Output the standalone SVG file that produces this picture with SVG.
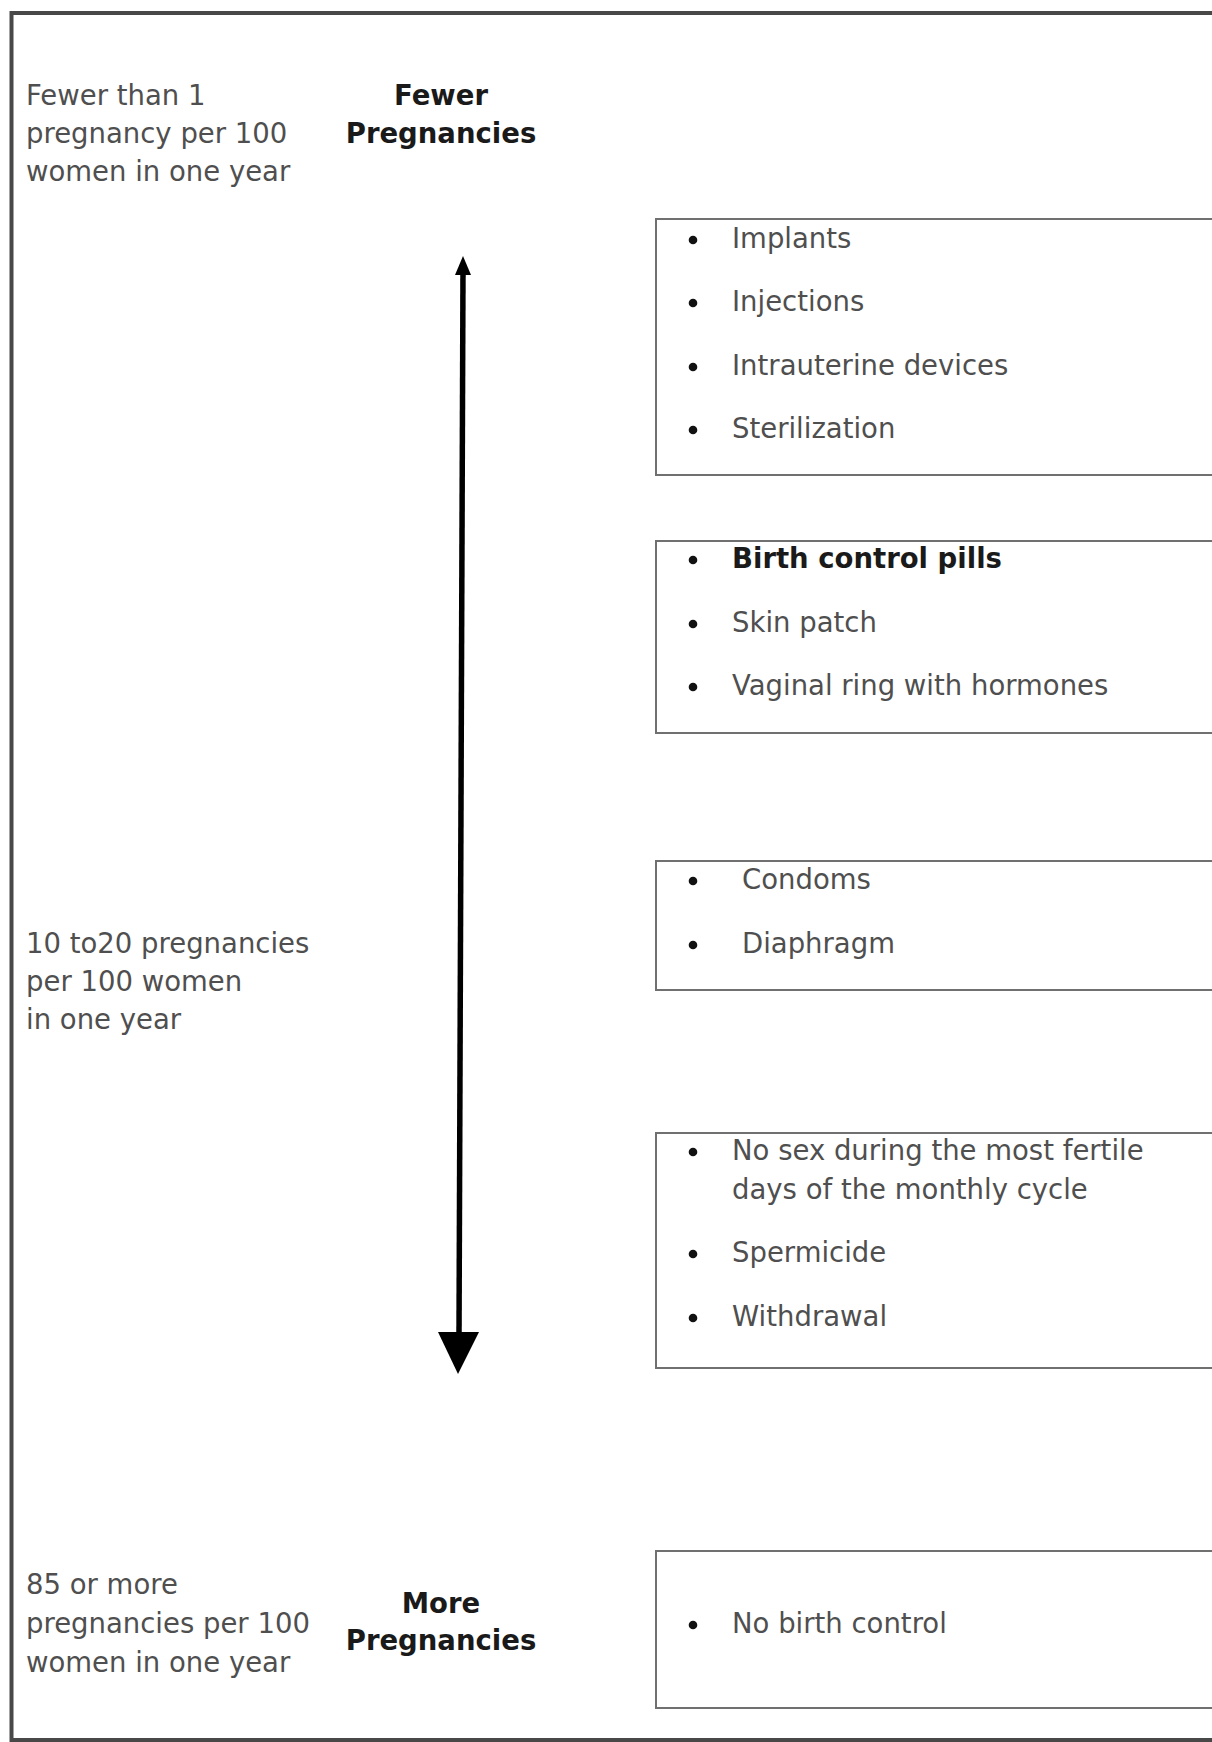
<svg xmlns="http://www.w3.org/2000/svg" width="1212" height="1742" viewBox="0 0 1212 1742">
<style>
.t{font-family:"DejaVu Sans","Liberation Sans",sans-serif;font-size:27.5px;fill:#4f4f4f}
.b{font-family:"DejaVu Sans","Liberation Sans",sans-serif;font-size:27.5px;font-weight:bold;fill:#1a1a1a}
.box{fill:#fff;stroke:#707070;stroke-width:2}
.dot{fill:#111}
</style>
<rect width="1212" height="1742" fill="#fff"/>
<path d="M1214,13 H11.5 V1740 H1214" fill="none" stroke="#484848" stroke-width="4"/>

<g id="label-top">
<text class="t" x="26" y="105">Fewer than 1</text>
<text class="t" x="26" y="143">pregnancy per 100</text>
<text class="t" x="26" y="181">women in one year</text>
</g>
<g id="heading-fewer">
<text class="b" x="441" y="105" text-anchor="middle">Fewer</text>
<text class="b" x="441" y="143" text-anchor="middle">Pregnancies</text>
</g>
<g id="label-mid">
<text class="t" x="26" y="953">10 to20 pregnancies</text>
<text class="t" x="26" y="991">per 100 women</text>
<text class="t" x="26" y="1029">in one year</text>
</g>
<g id="label-bottom">
<text class="t" x="26" y="1594">85 or more</text>
<text class="t" x="26" y="1633">pregnancies per 100</text>
<text class="t" x="26" y="1672">women in one year</text>
</g>
<g id="heading-more">
<text class="b" x="441" y="1613" text-anchor="middle">More</text>
<text class="b" x="441" y="1650" text-anchor="middle">Pregnancies</text>
</g>

<g id="connectors">
<line x1="463" y1="270" x2="459" y2="1336" stroke="#000" stroke-width="5.5"/>
<polygon points="463,256 471,275 455,275" fill="#000"/>
<polygon points="438,1332 479,1332 458,1374" fill="#000"/>
</g>

<g id="box1">
<rect class="box" x="656" y="219" width="570" height="256"/>
<circle class="dot" cx="693" cy="240" r="4.3"/><text class="t" x="732" y="248">Implants</text>
<circle class="dot" cx="693" cy="303" r="4.3"/><text class="t" x="732" y="311">Injections</text>
<circle class="dot" cx="693" cy="367" r="4.3"/><text class="t" x="732" y="375">Intrauterine devices</text>
<circle class="dot" cx="693" cy="430" r="4.3"/><text class="t" x="732" y="438">Sterilization</text>
</g>
<g id="box2">
<rect class="box" x="656" y="541" width="570" height="192"/>
<circle class="dot" cx="693" cy="560" r="4.3"/><text class="b" x="732" y="568">Birth control pills</text>
<circle class="dot" cx="693" cy="624" r="4.3"/><text class="t" x="732" y="632">Skin patch</text>
<circle class="dot" cx="693" cy="687" r="4.3"/><text class="t" x="732" y="695">Vaginal ring with hormones</text>
</g>
<g id="box3">
<rect class="box" x="656" y="861" width="570" height="129"/>
<circle class="dot" cx="693" cy="881" r="4.3"/><text class="t" x="742" y="889">Condoms</text>
<circle class="dot" cx="693" cy="945" r="4.3"/><text class="t" x="742" y="953">Diaphragm</text>
</g>
<g id="box4">
<rect class="box" x="656" y="1133" width="570" height="235"/>
<circle class="dot" cx="693" cy="1152" r="4.3"/><text class="t" x="732" y="1160">No sex during the most fertile</text>
<text class="t" x="732" y="1199">days of the monthly cycle</text>
<circle class="dot" cx="693" cy="1254" r="4.3"/><text class="t" x="732" y="1262">Spermicide</text>
<circle class="dot" cx="693" cy="1318" r="4.3"/><text class="t" x="732" y="1326">Withdrawal</text>
</g>
<g id="box5">
<rect class="box" x="656" y="1551" width="570" height="157"/>
<circle class="dot" cx="693" cy="1625" r="4.3"/><text class="t" x="732" y="1633">No birth control</text>
</g>
</svg>
